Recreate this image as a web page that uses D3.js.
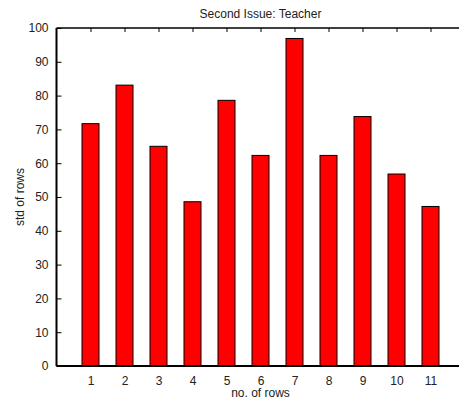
<!DOCTYPE html>
<html lang="en">
<head>
  <meta charset="UTF-8">
  <title>Second Issue: Teacher</title>
  <script src="https://d3js.org/d3.v7.min.js"></script>
  <style>
    body { margin: 0; background: #fff; }
    text { font-family: 'Liberation Sans', Arial, sans-serif; fill: #222; }
  </style>
</head>
<body>
  <div id="chart"></div>
  <script>
    // data
    const rows = [1, 2, 3, 4, 5, 6, 7, 8, 9, 10, 11];
    const stdValues = [71.7, 83.1, 65.0, 48.6, 78.6, 62.3, 96.9, 62.3, 73.8, 56.8, 47.2];
    const yTicks = [0, 10, 20, 30, 40, 50, 60, 70, 80, 90, 100];

    const W = 459, H = 405;
    const margin = { left: 56.5, top: 28, bottom: 39 };
    // x axis runs 0..12, right end falls past the window edge
    const x = d3.scaleLinear().domain([0, 12]).range([margin.left, margin.left + 408]);
    const y = d3.scaleLinear().domain([0, 100]).range([H - margin.bottom, margin.top]);

    const svg = d3.select("#chart").append("svg")
      .attr("width", W)
      .attr("height", H);

    const barW = x(0.5) - x(0);
    const fontSize = "12px";

    // bars
    svg.selectAll(".bar")
      .data(rows)
      .enter()
      .append("rect")
      .attr("class", "bar")
      .attr("x", (d, i) => x(d) - barW / 2)
      .attr("y", (d, i) => y(stdValues[i]))
      .attr("width", barW)
      .attr("height", (d, i) => y(0) - y(stdValues[i]))
      .attr("fill", "#ff0000")
      .attr("stroke", "#000")
      .attr("stroke-width", 1);

    // left axis, ticks pointing inside
    const yAxis = svg.append("g")
      .attr("transform", `translate(${x(0)},0)`)
      .call(d3.axisLeft(y).tickValues(yTicks).tickSize(-5).tickPadding(8));
    yAxis.select(".domain").remove();
    yAxis.selectAll("line").attr("stroke", "#000");
    yAxis.selectAll("text").style("font-size", fontSize).style("font-family", "'Liberation Sans', Arial, sans-serif").attr("fill", "#222");

    // bottom axis
    const xAxis = svg.append("g")
      .attr("transform", `translate(0,${y(0)})`)
      .call(d3.axisBottom(x).tickValues(rows).tickSize(0).tickPadding(10));
    xAxis.select(".domain").remove();
    xAxis.selectAll("text").style("font-size", fontSize).style("font-family", "'Liberation Sans', Arial, sans-serif").attr("fill", "#222");

    // top ticks pointing down
    svg.append("g")
      .attr("transform", `translate(0,${y(100)})`)
      .call(d3.axisTop(x).tickValues(rows).tickSize(-4).tickFormat(""))
      .call(g => g.select(".domain").remove())
      .selectAll("line").attr("stroke", "#000");

    // spines
    svg.append("line")
      .attr("x1", x(0)).attr("x2", x(0))
      .attr("y1", y(100)).attr("y2", y(0))
      .attr("stroke", "#000").attr("stroke-width", 2);
    svg.append("line")
      .attr("x1", x(0)).attr("x2", x(12))
      .attr("y1", y(0)).attr("y2", y(0))
      .attr("stroke", "#000").attr("stroke-width", 2);
    svg.append("line")
      .attr("x1", x(0)).attr("x2", x(12))
      .attr("y1", y(100)).attr("y2", y(100))
      .attr("stroke", "#000").attr("stroke-width", 1.5);

    // labels
    const cx = (x(0) + x(12)) / 2;
    svg.append("text")
      .attr("x", cx).attr("y", 18)
      .attr("text-anchor", "middle")
      .style("font-size", fontSize)
      .text("Second Issue: Teacher");

    svg.append("text")
      .attr("x", cx).attr("y", 397)
      .attr("text-anchor", "middle")
      .style("font-size", fontSize)
      .text("no. of rows");

    svg.append("text")
      .attr("transform", `translate(24,${(y(0) + y(100)) / 2}) rotate(-90)`)
      .attr("text-anchor", "middle")
      .style("font-size", fontSize)
      .text("std of rows");
  </script>
</body>
</html>
